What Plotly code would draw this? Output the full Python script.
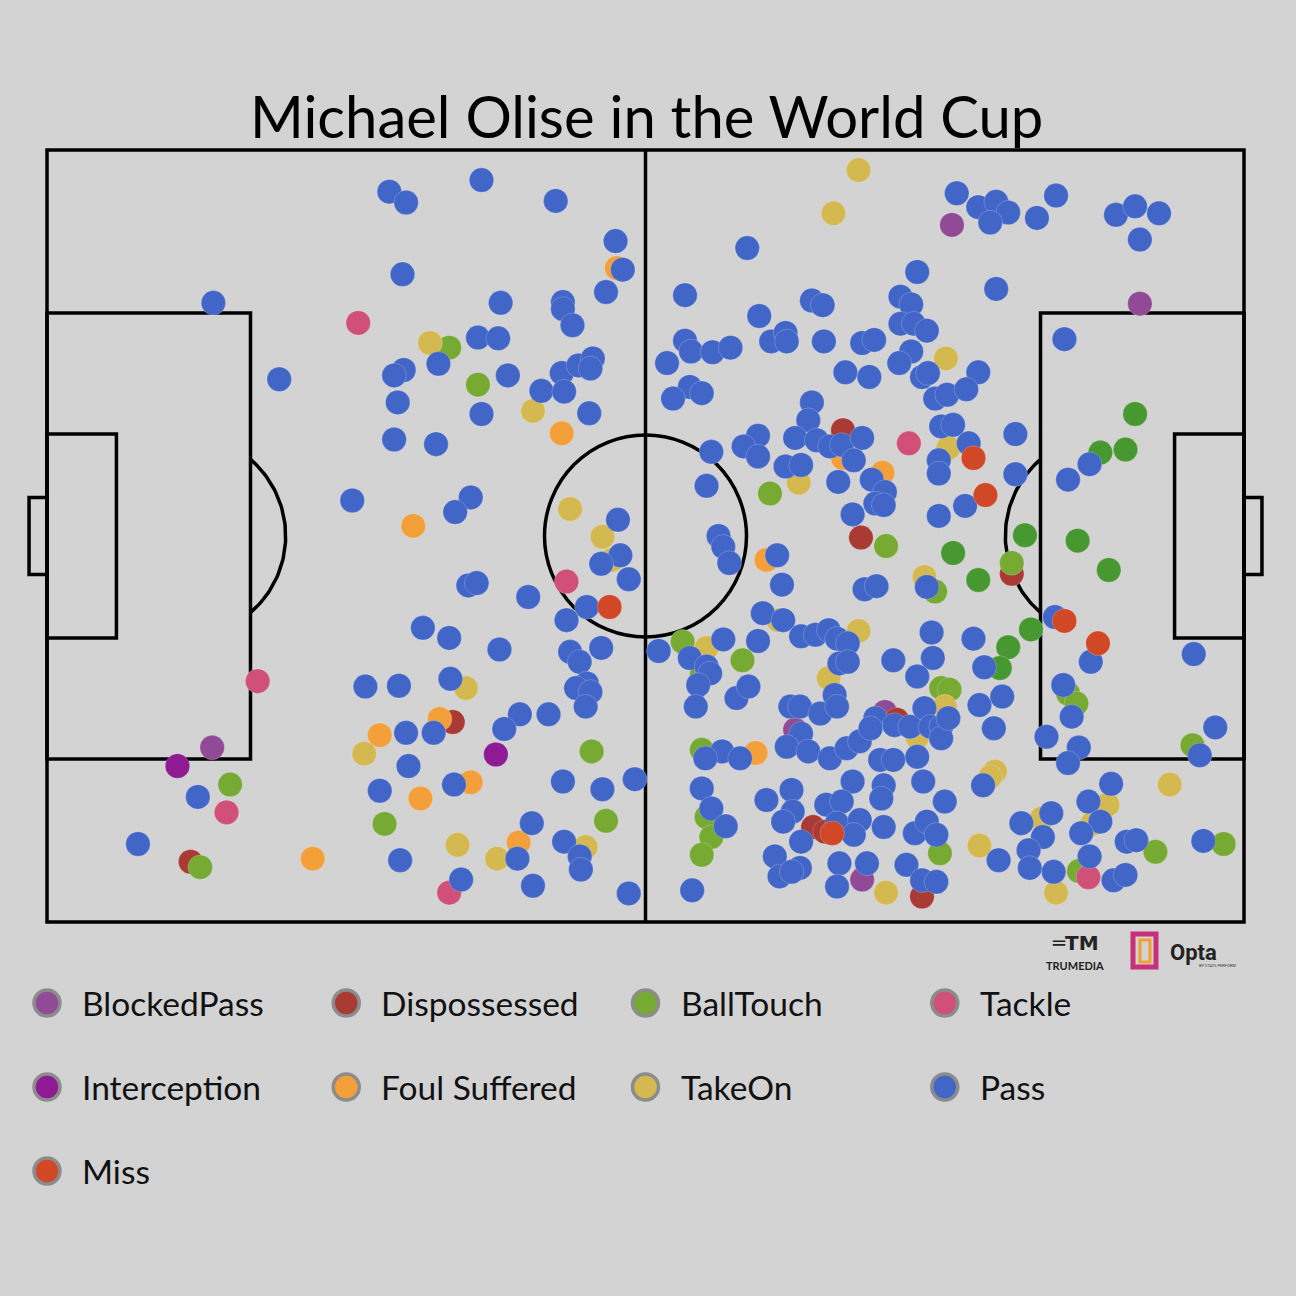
import numpy as np
import plotly.graph_objects as go

# ---------------- data (Opta-style pitch coordinates, 0-100) ----------------
pass_x = [13.9, 19.4, 28.6, 30.0, 36.3, 42.5, 47.5, 48.1, 46.7, 29.7, 37.9, 43.1, 43.1, 43.9, 32.7, 36.0, 37.7, 29.8, 29.0, 38.5,
          41.3, 43.0, 43.2, 44.4, 45.6, 45.4, 29.3, 36.3, 45.3, 58.5, 72.7, 53.3, 59.5, 63.9, 64.8, 71.3, 72.2, 71.3, 72.4, 73.5,
          53.3, 53.8, 55.6, 57.1, 51.8, 60.5, 61.7, 61.8, 64.9, 68.1, 69.1, 72.2, 71.2, 73.1, 73.6, 66.7, 68.7, 53.7, 54.7, 52.3,
          63.9, 74.2, 75.2, 76.0, 77.8, 79.3, 80.3, 78.8, 82.7, 84.3, 89.3, 90.9, 92.9, 91.3, 79.3, 85.0, 77.8, 76.8, 29.0, 32.5,
          25.5, 35.4, 34.1, 47.7, 47.9, 46.3, 48.6, 35.2, 35.9, 40.2, 45.1, 43.4, 31.4, 33.6, 37.8, 43.7, 44.5, 46.3, 33.7, 63.6,
          59.4, 58.2, 59.4, 62.5, 55.5, 64.3, 65.4, 66.4, 68.1, 67.4, 74.7, 74.5, 74.5, 61.7, 63.0, 66.1, 68.9, 70.0, 69.2, 69.9,
          67.3, 55.1, 74.5, 56.1, 56.5, 57.0, 61.0, 61.4, 73.5, 68.3, 69.3, 59.8, 61.5, 63.0, 64.2, 65.3, 66.0, 66.9, 73.9, 59.4,
          56.5, 51.1, 53.7, 66.2, 70.7, 74.0, 55.1, 80.9, 75.7, 77.0, 80.9, 76.7, 87.1, 85.3, 84.2, 87.2, 95.8, 77.4, 78.3, 26.6,
          29.4, 45.1, 44.2, 45.4, 45.0, 32.3, 30.0, 30.2, 39.5, 38.2, 41.9, 27.8, 34.0, 43.1, 46.4, 49.1, 40.5, 39.3, 43.2, 44.5,
          44.6, 29.5, 34.6, 40.6, 48.6, 12.6, 7.6, 55.4, 54.4, 54.2, 57.6, 58.6, 66.9, 72.7, 62.1, 62.9, 64.6, 65.8, 66.0, 69.2,
          70.8, 72.1, 73.3, 73.8, 74.7, 74.7, 63.0, 61.8, 63.6, 65.4, 66.8, 67.9, 68.8, 69.6, 70.7, 72.7, 56.4, 57.9, 55.0, 54.7,
          60.1, 62.2, 62.3, 61.5, 63.0, 67.3, 69.9, 69.7, 73.2, 75.0, 65.1, 66.4, 66.0, 67.9, 67.4, 69.9, 72.5, 73.5, 74.3, 55.5,
          56.7, 60.8, 61.2, 62.9, 62.2, 66.2, 68.5, 66.0, 71.8, 73.1, 74.3, 53.9, 75.3, 79.8, 77.9, 79.1, 84.9, 85.6, 83.5, 86.2,
          85.3, 97.6, 96.3, 88.9, 78.2, 87.0, 88.0, 86.4, 83.9, 81.4, 83.2, 82.0, 82.1, 84.1, 79.5, 87.1, 89.1, 90.1, 90.2, 91.0,
          96.6]
pass_y = [80.2, 70.3, 94.6, 93.2, 96.1, 93.4, 88.2, 84.5, 81.6, 83.9, 80.2, 80.3, 79.4, 77.3, 72.3, 75.7, 75.6, 71.5, 70.8, 70.8,
          68.8, 71.1, 68.7, 72.1, 73.0, 71.7, 67.3, 65.8, 65.9, 87.3, 84.2, 81.2, 78.5, 80.5, 79.9, 81.0, 80.0, 77.5, 77.5, 76.6,
          75.3, 73.9, 73.8, 74.4, 72.4, 75.2, 76.3, 75.2, 75.2, 75.0, 75.4, 73.9, 72.4, 70.6, 71.1, 71.2, 70.6, 69.3, 68.5, 67.8,
          67.3, 67.8, 68.3, 94.4, 92.6, 93.3, 91.9, 90.6, 91.2, 94.1, 91.6, 92.7, 91.8, 88.4, 82.0, 75.5, 71.2, 69.0, 62.5, 61.9,
          54.6, 55.0, 53.1, 52.1, 47.5, 46.4, 44.4, 43.6, 43.9, 42.1, 40.8, 39.1, 38.1, 36.8, 35.3, 35.0, 33.7, 35.5, 31.5, 65.0,
          63.0, 61.6, 60.3, 62.7, 60.9, 62.4, 61.6, 61.8, 62.7, 59.8, 64.2, 59.8, 58.1, 59.0, 59.2, 57.0, 57.3, 55.7, 54.2, 54.0,
          52.8, 56.5, 52.6, 50.0, 48.6, 46.5, 47.5, 43.7, 43.4, 43.1, 43.5, 40.0, 39.1, 37.0, 37.2, 37.8, 36.7, 36.1, 37.5, 36.4,
          36.6, 35.1, 34.2, 33.5, 33.9, 34.2, 33.1, 63.2, 64.4, 62.0, 58.0, 53.9, 59.3, 57.3, 39.5, 33.7, 34.7, 36.7, 33.0, 30.5,
          30.6, 30.9, 30.3, 29.8, 27.9, 24.5, 24.5, 20.2, 26.9, 25.0, 26.9, 17.0, 17.8, 18.2, 17.2, 18.5, 12.8, 8.2, 10.4, 8.5,
          6.8, 8.0, 5.5, 4.7, 3.7, 16.2, 10.1, 32.2, 30.7, 27.9, 29.0, 30.5, 33.7, 31.8, 27.9, 27.9, 27.0, 29.4, 27.9, 26.4,
          25.5, 25.3, 27.7, 25.3, 25.3, 23.8, 24.4, 22.7, 22.1, 21.2, 22.5, 23.4, 25.1, 21.0, 21.0, 21.4, 22.1, 21.2, 21.2, 17.3,
          15.8, 17.1, 14.3, 13.0, 10.4, 18.2, 17.7, 16.0, 18.2, 15.6, 15.2, 15.6, 12.8, 13.2, 11.3, 12.3, 11.5, 13.0, 11.3, 14.7,
          12.4, 8.5, 5.9, 7.0, 6.5, 7.6, 7.6, 4.6, 7.4, 5.4, 5.2, 4.1, 26.4, 29.2, 28.1, 25.1, 30.7, 26.6, 24.0, 22.6,
          20.6, 25.2, 21.6, 17.9, 17.7, 15.6, 13.0, 11.5, 14.1, 12.8, 11.0, 9.3, 7.0, 6.5, 8.0, 8.5, 5.4, 6.1, 10.4, 10.6,
          10.5]

takeon_x = [32.0, 40.6, 67.8, 65.7, 75.1, 43.7, 46.4, 47.2, 75.3, 62.8, 73.3, 61.1, 67.8, 55.1, 35.0, 26.5,
            34.3, 37.6, 45.0, 65.3, 75.0, 72.7, 70.1, 93.8, 79.2, 78.8, 88.6, 87.3, 83.1, 84.3, 77.9]
takeon_y = [75.0, 66.2, 97.4, 91.8, 73.0, 53.5, 49.9, 46.9, 61.4, 56.9, 44.7, 39.1, 37.7, 35.5, 30.3, 21.8,
            10.0, 8.2, 9.7, 31.6, 27.9, 24.0, 3.8, 17.8, 19.5, 18.8, 15.2, 12.7, 13.4, 3.8, 9.9]

foul_x = [47.6, 43.0, 30.6, 66.5, 69.8, 60.1, 32.8, 27.8, 35.4, 31.2, 39.4, 22.2, 59.2]
foul_y = [84.7, 63.3, 51.3, 60.1, 58.2, 46.9, 26.3, 24.2, 18.1, 16.0, 10.3, 8.2, 21.9]

dispossessed_x = [66.5, 68.0, 80.6, 33.9, 12.0, 71.0, 64.0, 65.0, 73.1]
dispossessed_y = [63.7, 49.8, 45.1, 25.9, 7.8, 26.2, 12.3, 11.7, 3.3]

miss_x = [47.0, 77.4, 78.4, 85.0, 87.8, 65.6]
miss_y = [40.8, 60.1, 55.3, 39.0, 36.1, 11.5]

tackle_x = [26.0, 43.4, 72.0, 17.6, 15.0, 33.6, 87.0]
tackle_y = [77.6, 44.1, 62.0, 31.2, 14.2, 3.8, 5.8]

blocked_x = [75.6, 91.3, 13.8, 70.0, 68.1, 62.5]
blocked_y = [90.3, 80.1, 22.6, 27.2, 5.5, 24.9]

intercept_x = [10.9, 37.5]
intercept_y = [20.2, 21.7]

balltouch_x = [33.6, 36.0, 60.4, 70.1, 80.6, 74.2, 53.1, 58.1, 54.7, 74.7, 75.4, 85.3, 86.0, 54.7, 55.1, 55.5,
               54.7, 74.6, 95.7, 92.6, 98.3, 86.2, 15.3, 12.8, 28.2, 45.5, 46.7]
balltouch_y = [74.4, 69.6, 55.5, 48.7, 46.5, 42.8, 36.3, 33.9, 32.0, 30.3, 30.1, 29.6, 28.3, 22.3, 13.6, 11.0,
               8.7, 8.9, 22.9, 9.1, 10.1, 6.6, 17.8, 7.1, 12.7, 22.1, 13.1]

# darker-green touches inside the final third
balltouch2_x = [90.9, 90.1, 88.0, 81.7, 86.1, 88.7, 75.7, 77.8, 82.2, 80.3, 79.6]
balltouch2_y = [65.8, 61.2, 60.8, 50.1, 49.4, 45.6, 47.8, 44.3, 37.9, 35.6, 32.9]

legend_names = ["BlockedPass", "Dispossessed", "BallTouch", "Tackle",
                "Interception", "Foul Suffered", "TakeOn", "Pass", "Miss"]
legend_colors = ["#914B96", "#AA3A34", "#76AA32", "#D05078",
                 "#8E1A94", "#F3A03A", "#D4B850", "#4166C8", "#D04826"]

series = {
    "BlockedPass": (blocked_x, blocked_y),
    "Dispossessed": (dispossessed_x, dispossessed_y),
    "BallTouch": (balltouch_x, balltouch_y),
    "Tackle": (tackle_x, tackle_y),
    "Interception": (intercept_x, intercept_y),
    "Foul Suffered": (foul_x, foul_y),
    "TakeOn": (takeon_x, takeon_y),
    "Pass": (pass_x, pass_y),
    "Miss": (miss_x, miss_y),
}

# ---------------- figure geometry ----------------
W = H = 1296
PX_X0, PX_X1 = 47, 1244     # pitch left/right pixels
PX_Y0, PX_Y1 = 922, 150     # pitch bottom/top pixels
sx = (PX_X1 - PX_X0) / 100.0
sy = (PX_Y0 - PX_Y1) / 100.0
x_range = [(0 - PX_X0) / sx, (W - PX_X0) / sx]
y_range = [(PX_Y0 - H) / sy, PX_Y0 / sy]

BG = "#D3D3D3"
LW = 3.5
LINE = dict(color="black", width=LW)

fig = go.Figure()

# pitch markings
shapes = []
def rect(x0, y0, x1, y1):
    shapes.append(dict(type="rect", x0=x0, y0=y0, x1=x1, y1=y1, line=LINE, layer="below"))
def seg(x0, y0, x1, y1):
    shapes.append(dict(type="line", x0=x0, y0=y0, x1=x1, y1=y1, line=LINE, layer="below"))

rect(0, 0, 100, 100)
seg(50, 0, 50, 100)
rect(0, 21.1, 17, 78.9)
rect(83, 21.1, 100, 78.9)
rect(0, 36.8, 5.8, 63.2)
rect(94.2, 36.8, 100, 63.2)
rect(-1.5, 45.0, 0, 55.0)
rect(100, 45.0, 101.5, 55.0)

R_PX = 101
rx, ry = R_PX / sx, R_PX / sy
shapes.append(dict(type="circle", x0=50 - rx, x1=50 + rx, y0=50 - ry, y1=50 + ry,
                   line=LINE, layer="below"))

# penalty arcs
spot = 11.5
lim = np.arccos((17 - spot) / rx)
th = np.linspace(-lim, lim, 60)
fig.add_trace(go.Scatter(x=spot + rx * np.cos(th), y=50 + ry * np.sin(th), mode="lines",
                         line=dict(color="black", width=LW), hoverinfo="skip", showlegend=False))
fig.add_trace(go.Scatter(x=100 - spot - rx * np.cos(th), y=50 + ry * np.sin(th), mode="lines",
                         line=dict(color="black", width=LW), hoverinfo="skip", showlegend=False))

MS = 24.5
colors = dict(zip(legend_names, legend_colors))
for name in legend_names:
    xs, ys = series[name]
    fig.add_trace(go.Scatter(x=xs, y=ys, mode="markers", name=name, showlegend=False,
                             marker=dict(size=MS, color=colors[name],
                                         line=dict(width=0.6, color="rgba(255,255,255,0.35)"))))
    if name == "BallTouch":
        fig.add_trace(go.Scatter(x=balltouch2_x, y=balltouch2_y, mode="markers", name="BallTouch",
                                 showlegend=False,
                                 marker=dict(size=MS, color="#489832",
                                             line=dict(width=0.6, color="rgba(255,255,255,0.35)"))))

# custom legend (grid of 4 columns)
cols = 4
leg_x0 = 0.0
leg_dx = 25.0
leg_y0 = (PX_Y0 - 1003) / sy
leg_dy = 84 / sy
lx = [leg_x0 + (i % cols) * leg_dx for i in range(len(legend_names))]
ly = [leg_y0 - (i // cols) * leg_dy for i in range(len(legend_names))]
fig.add_trace(go.Scatter(x=lx, y=ly, mode="markers", hoverinfo="skip", showlegend=False,
                         marker=dict(size=26, color=legend_colors,
                                     line=dict(width=3.5, color="#8C8C8C"))))
annotations = []
for name, x, y in zip(legend_names, lx, ly):
    annotations.append(dict(x=x + 33 / sx, y=y, xref="x", yref="y", text=name, showarrow=False,
                            xanchor="left", yanchor="middle",
                            font=dict(family="Lato", size=33.5, color="#111111")))

# title
annotations.append(dict(x=646 / W, y=1 - 116 / H, xref="paper", yref="paper",
                        text="Michael Olise in the World Cup", showarrow=False,
                        xanchor="center", yanchor="middle",
                        font=dict(family="Lato", size=58, color="black")))

# logos (text approximations)
annotations.append(dict(x=1075 / W, y=1 - 965 / H, xref="paper", yref="paper", text="<b>TRUMEDIA</b>",
                        showarrow=False, xanchor="center", yanchor="middle",
                        font=dict(family="Lato", size=11, color="#222222")))
annotations.append(dict(x=1075 / W, y=1 - 943 / H, xref="paper", yref="paper", text="<b>═TM</b>",
                        showarrow=False, xanchor="center", yanchor="middle",
                        font=dict(family="DejaVu Sans", size=20, color="#222222")))
annotations.append(dict(x=1168 / W, y=1 - 952 / H, xref="paper", yref="paper", text="<b>Opta</b>",
                        showarrow=False, xanchor="left", yanchor="middle",
                        font=dict(family="Roboto", size=22, color="#222222")))
annotations.append(dict(x=1238 / W, y=1 - 965 / H, xref="paper", yref="paper", text="BY STATS PERFORM",
                        showarrow=False, xanchor="right", yanchor="middle",
                        font=dict(family="Roboto", size=4, color="#333333")))
shapes.append(dict(type="rect", xref="paper", yref="paper",
                   x0=1133 / W, x1=1156 / W, y0=1 - 967 / H, y1=1 - 934 / H,
                   line=dict(color="#C8307A", width=5), fillcolor="rgba(0,0,0,0)"))
shapes.append(dict(type="rect", xref="paper", yref="paper",
                   x0=1140 / W, x1=1150 / W, y0=1 - 962 / H, y1=1 - 940 / H,
                   line=dict(color="#F0A030", width=3), fillcolor="rgba(0,0,0,0)"))

fig.update_layout(
    width=W, height=H,
    margin=dict(l=0, r=0, t=0, b=0),
    paper_bgcolor=BG, plot_bgcolor=BG,
    xaxis=dict(range=x_range, visible=False, showgrid=False, zeroline=False, fixedrange=True),
    yaxis=dict(range=y_range, visible=False, showgrid=False, zeroline=False, fixedrange=True),
    shapes=shapes, annotations=annotations,
    showlegend=False,
)

fig.write_html("out.html")
